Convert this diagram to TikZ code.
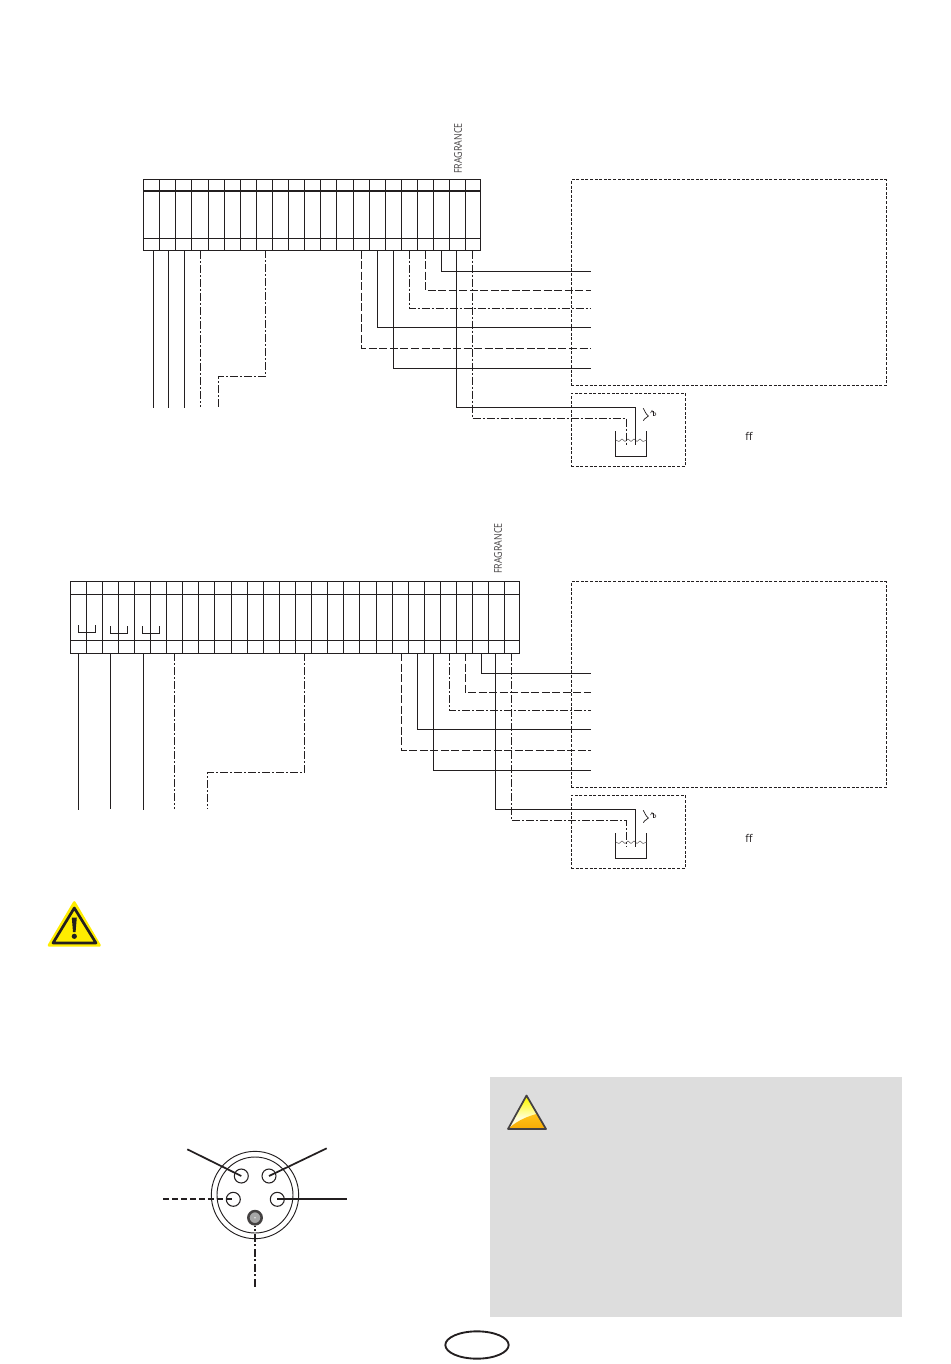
\documentclass[tikz,border=0pt]{standalone}
\usepackage{fontspec}
\usetikzlibrary{shapes.geometric}
\setmainfont{Open Sans}
\definecolor{ink}{HTML}{231F20}
\definecolor{panel}{HTML}{DDDDDD}
\definecolor{signy}{HTML}{FFED00}
\definecolor{ambertop}{HTML}{FFC81E}
\definecolor{amberlow}{HTML}{F7A600}
\tikzset{
  strip/.style={draw=ink,line width=0.8pt},
  wire/.style={draw=ink,line width=0.8pt},
  dd/.style={draw=ink,line width=0.8pt,dash pattern=on 6pt off 1.5pt on 1.5pt off 1.5pt},
  ds/.style={draw=ink,line width=0.8pt,dash pattern=on 6pt off 1.9pt},
  zone/.style={draw=ink,line width=0.6pt,dash pattern=on 2.25pt off 1.2pt,inner sep=0pt,anchor=north west},
  lab/.style={inner sep=0pt,text=ink!85,font=\fontsize{8pt}{9pt}\selectfont},
  pinc/.style={circle,draw=ink,line width=0.8pt,minimum size=10.5pt,inner sep=0pt},
  lead/.style={draw=ink,line width=1.3pt}
}
\begin{document}
\begin{tikzpicture}[x=0.75pt,y=-0.75pt,line join=miter]
\useasboundingbox (0,0) rectangle (950,1364);

% ---------- top strip
\draw[strip] (143.3,179.3) rectangle (480.5,250.3);
\draw[strip] (143.3,191) -- (480.5,191) (143.3,238.3) -- (480.5,238.3);
\foreach \x in {159.3,175.3,191.3,208.3,224.3,240.3,256.3,272.3,288.3,304.3,320.3,336.3,353.3,369.3,385.3,401.3,417.3,433.3,449.3,465.3}
  \draw[strip] (\x,179.3) -- (\x,250.3);
\node[lab,rotate=90] (fragA) at (458,148.5) {\scalebox{0.83}[1]{FRAGRANCE}};

% ---------- bottom strip
\draw[strip] (70.3,581.3) rectangle (519.5,653.3);
\draw[strip] (70.3,594.3) -- (519.5,594.3) (70.3,640.3) -- (519.5,640.3);
\foreach \x in {86.3,102.3,118.3,134.3,150.3,166.3,182.3,198.3,214.3,231.3,247.3,263.3,279.3,295.3,311.3,327.3,343.3,359.3,376.3,392.3,408.3,424.3,440.3,456.3,472.3,488.3,504.3}
  \draw[strip] (\x,581.3) -- (\x,653.3);
\node[lab,rotate=90] (fragB) at (498,548.5) {\scalebox{0.83}[1]{FRAGRANCE}};
\draw[wire] (78.3,625) -- (78.3,632.3) -- (95.7,632.3) -- (95.7,625);
\draw[wire] (110.3,626) -- (110.3,633.3) -- (127.7,633.3) -- (127.7,626);
\draw[wire] (142.3,626) -- (142.3,633.3) -- (159.7,633.3) -- (159.7,626);

% ---------- zones
\node[zone,minimum width=236.25pt,minimum height=154.5pt] (zoneA) at (570.8,179.3) {};
\node[zone,minimum width=85.5pt,minimum height=54.75pt] (tankA) at (570.8,393) {};
\node[zone,minimum width=236.25pt,minimum height=154.5pt] (zoneB) at (570.8,581.3) {};
\node[zone,minimum width=85.5pt,minimum height=54.75pt] (tankB) at (570.8,795) {};

% ---------- tanks
\foreach \off/\nm in {0/A,402/B}{
\begin{scope}[shift={(0,\off)}]
  \draw[strip] (615.7,431) -- (615.7,456.3) -- (646.7,456.3) -- (646.7,431);
  \draw[ink!70,line width=0.4pt] (615.7,440) -- (619,441.5) -- (622,439) -- (625,441.5) -- (628,439) -- (631,441.5) -- (634,439) -- (637,441.5) -- (640,439) -- (643,441.5) -- (646.7,440);
  \draw[ink,line width=0.55pt] (643.3,408.3) .. controls (645,411) and (645,413) .. (648.3,416) .. controls (648,418) and (645,417) .. (643.3,420.7);
  \draw[ink,line width=0.4pt] (650.5,413) -- (652,410.5) -- (653.5,413) (653.5,411) -- (653.5,415.5) .. controls (656.5,416.5) and (657,411.5) .. (653.5,413);
  \node[inner sep=0pt,text=ink,font=\fontsize{8pt}{9pt}\selectfont] (ff\nm) at (749,436) {ff};
  \coordinate (drop\nm s) at (635.3,445);
  \coordinate (drop\nm d) at (626.3,445);
\end{scope}}

% ---------- top wires
\foreach \x/\st/\y in {153.3/wire/408,168.3/wire/408,184.3/wire/408,200.3/dd/407}{
  \coordinate (p) at (\x,251); \coordinate (q) at (\x,\y);
  \draw[\st] (p) -- (q);
}
\coordinate (aT) at (265.3,250); \coordinate (aE) at (218.3,407);
\draw[dd] (aT) -- (265.3,376.4) -- (218.3,376.4) -- (aE);
\foreach \x/\y/\st in {441.3/271.3/wire,425.3/290.3/ds,409.3/308.3/dd,377.3/327.3/wire,361.3/348.3/ds,393.3/368.3/wire}{
  \coordinate (p) at (\x,250.5); \coordinate (q) at (590.7,\y);
  \draw[\st] (p) |- (q);
}
\coordinate (sA) at (456.3,250.5); \coordinate (dA) at (472.3,250.5);
\draw[wire] (sA) |- (635.3,407.3) -- (dropAs);
\draw[dd] (dA) |- (626.3,418.3) -- (dropAd);

% ---------- bottom wires
\foreach \x/\st/\y in {78.3/wire/810,110.3/wire/809,143.3/wire/810,174.3/dd/809}{
  \coordinate (p) at (\x,653); \coordinate (q) at (\x,\y);
  \draw[\st] (p) -- (q);
}
\coordinate (bT) at (304.3,653); \coordinate (bE) at (207.5,809);
\draw[dd] (bT) -- (304.3,772.4) -- (207.5,772.4) -- (bE);
\foreach \x/\y/\st in {481.3/673.8/wire,465.3/692.3/ds,449.3/710.3/dd,417.3/729.8/wire,401.3/750.3/ds,433.3/770.3/wire}{
  \coordinate (p) at (\x,653); \coordinate (q) at (590.7,\y);
  \draw[\st] (p) |- (q);
}
\coordinate (sB) at (495.3,653); \coordinate (dB) at (511.3,653);
\draw[wire] (sB) |- (635.3,809.3) -- (dropBs);
\draw[dd] (dB) |- (626.3,820.3) -- (dropBd);

% ---------- warning sign
\fill[signy,draw=signy,line width=2pt,line join=round] (74.3,902.5) -- (99.5,945.3) -- (49,945.3) -- cycle;
\draw[ink,line width=2pt,line join=round] (74.3,908) -- (96,943) -- (53,943) -- cycle;
\fill[ink] (71.8,917.5) -- (76.8,917.5) -- (75.6,932) -- (73,932) -- cycle;
\fill[ink] (74.3,936.3) circle (2.6);

% ---------- grey panel
\fill[panel] (490,1077) rectangle (902,1317);
\begin{scope}
  \clip (526.5,1095.5) -- (546,1129) -- (508,1129) -- cycle;
  \shade[top color=yellow!95!orange,bottom color=white!85!yellow] (505,1098) rectangle (550,1118);
  \fill[white!85!yellow] (505,1118) rectangle (550,1132);
  \fill[yellow!95!orange] (505,1093) rectangle (550,1098);
  \shade[top color=ambertop,bottom color=amberlow] (508,1129) .. controls (518,1120) and (528,1115) .. (550,1111) -- (550,1132) -- (505,1132) -- cycle;
\end{scope}
\draw[ink!85,line width=1.3pt,line join=round] (526.5,1095.5) -- (546,1129) -- (508,1129) -- cycle;

% ---------- connector
\node[circle,draw=ink,line width=0.7pt,minimum size=65.5pt,inner sep=0pt] (plugO) at (255,1195) {};
\node[circle,draw=ink,line width=0.7pt,minimum size=57pt,inner sep=0pt] (plugI) at (255,1195) {};
\node[pinc] (pinTL) at (241.3,1176) {};
\node[pinc] (pinTR) at (269,1176) {};
\node[pinc] (pinL) at (233.3,1199.3) {};
\node[pinc] (pinR) at (277.3,1199.3) {};
\node[circle,draw=ink!85,fill=gray!70,line width=1.9pt,minimum size=10pt,inner sep=0pt] (pinE) at (255,1217.7) {};
\fill[white!80!gray] (pinE.center) circle (0.9);
\coordinate (eTL) at (187.3,1149.3);
\coordinate (eTR) at (326.7,1148.3);
\coordinate (eL) at (163.3,1199.3);
\coordinate (eR) at (346.7,1199.3);
\coordinate (eB) at (255,1286.7);
\draw[lead] (eTL) -- (pinTL.center);
\draw[lead] (eTR) -- (pinTR.center);
\draw[lead] (eR) -- (pinR.center);
\draw[lead,dash pattern=on 4.5pt off 2.25pt] (eL) -- (pinL.center);
\draw[lead,dash pattern=on 6pt off 1.9pt on 1.5pt off 1.9pt] (eB) -- (pinE.south);

% ---------- page badge
\node[ellipse,draw=ink,line width=1.4pt,minimum width=47.5pt,minimum height=20.5pt,inner sep=0pt] (badge) at (477,1345) {};
\end{tikzpicture}
\end{document}
